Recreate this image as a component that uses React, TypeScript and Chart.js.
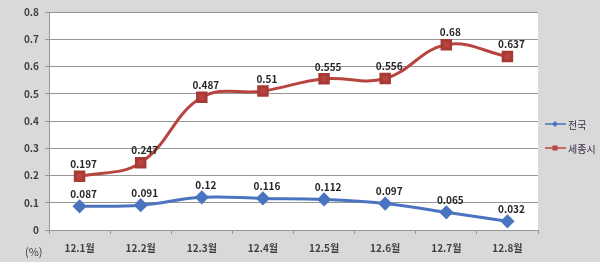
import React, { useEffect, useRef } from "react";
import { Chart, registerables } from "chart.js";

Chart.register(...registerables);

const categories = ["12.1월", "12.2월", "12.3월", "12.4월", "12.5월", "12.6월", "12.7월", "12.8월"];
const nationalValues = [0.087, 0.091, 0.12, 0.116, 0.112, 0.097, 0.065, 0.032];
const sejongValues = [0.197, 0.247, 0.487, 0.51, 0.555, 0.556, 0.68, 0.637];
const seriesNames = ["전국", "세종시"];
const unitLabel = "(%)";

const BLUE = "#4a74c0";
const RED = "#b8443f";
const FONT = "'Noto Sans CJK KR', 'Noto Sans', sans-serif";

const extrasPlugin = {
  id: "extras",
  beforeDraw(chart: any) {
    const { ctx, width, height } = chart;
    ctx.save();
    ctx.fillStyle = "#d9d9d9";
    ctx.fillRect(0, 0, width, height);
    const a = chart.chartArea;
    ctx.fillStyle = "#ffffff";
    ctx.fillRect(a.left, a.top, a.right - a.left, a.bottom - a.top);
    ctx.restore();
  },
  afterDatasetsDraw(chart: any) {
    const { ctx } = chart;
    ctx.save();
    ctx.font = `bold 10px ${FONT}`;
    ctx.fillStyle = "#262626";
    ctx.textAlign = "center";
    ctx.textBaseline = "middle";
    chart.data.datasets.forEach((ds: any, i: number) => {
      const meta = chart.getDatasetMeta(i);
      meta.data.forEach((pt: any, j: number) => {
        ctx.fillText(String(ds.data[j]), pt.x + 4, pt.y - 12);
      });
    });
    // unit label
    ctx.font = `11px ${FONT}`;
    ctx.fillStyle = "#404040";
    ctx.textAlign = "left";
    ctx.fillText(unitLabel, 25, 252);
    // legend
    const items = [
      { name: seriesNames[0], color: BLUE, style: "rectRot", y: 124 },
      { name: seriesNames[1], color: RED, style: "rect", y: 148 },
    ];
    items.forEach((it) => {
      ctx.strokeStyle = it.color;
      ctx.lineWidth = 1.5;
      ctx.beginPath();
      ctx.moveTo(545, it.y);
      ctx.lineTo(566, it.y);
      ctx.stroke();
      ctx.fillStyle = it.color;
      if (it.style === "rect") {
        ctx.fillRect(552.5, it.y - 2.5, 5, 5);
      } else {
        ctx.beginPath();
        ctx.moveTo(555, it.y - 3);
        ctx.lineTo(558, it.y);
        ctx.lineTo(555, it.y + 3);
        ctx.lineTo(552, it.y);
        ctx.closePath();
        ctx.fill();
      }
      ctx.font = `10px ${FONT}`;
      ctx.fillStyle = "#3b2f4a";
      ctx.textAlign = "left";
      ctx.fillText(it.name, 568, it.y + 1);
    });
    ctx.restore();
  },
};

export default function App() {
  const ref = useRef<HTMLCanvasElement>(null);
  useEffect(() => {
    document.body.style.margin = "0";
    const chart = new Chart(ref.current!, {
      type: "line",
      data: {
        labels: categories,
        datasets: [
          {
            label: seriesNames[0],
            data: nationalValues,
            borderColor: BLUE,
            backgroundColor: BLUE,
            borderWidth: 3,
            pointStyle: "rectRot",
            pointRadius: 5,
            pointBackgroundColor: BLUE,
            pointBorderColor: BLUE,
            tension: 0.4,
          },
          {
            label: seriesNames[1],
            data: sejongValues,
            borderColor: RED,
            backgroundColor: RED,
            borderWidth: 3,
            pointStyle: "rect",
            pointRadius: 6,
            pointBackgroundColor: RED,
            pointBorderColor: "#a83a35",
            tension: 0.4,
          },
        ],
      },
      options: {
        animation: false,
        responsive: false,
        layout: { padding: { left: 0, right: 62, top: 10, bottom: 0 } },
        plugins: { legend: { display: false }, tooltip: { enabled: false } },
        scales: {
          x: {
            offset: true,
            grid: {
              offset: true,
              drawOnChartArea: false,
              drawTicks: true,
              tickLength: 4,
              color: "#969696",
            },
            border: { color: "#969696" },
            ticks: {
              color: "#404040",
              font: { family: FONT, size: 10, weight: "bold" },
              padding: 8,
              maxRotation: 0,
            },
            afterFit: (s: any) => {
              s.height = 32;
            },
          },
          y: {
            min: 0,
            max: 0.8,
            ticks: {
              stepSize: 0.1,
              color: "#404040",
              font: { family: FONT, size: 10, weight: "bold" },
              padding: 6,
              callback: (v: any) => String(Math.round(Number(v) * 10) / 10),
            },
            grid: { color: "#969696", tickLength: 4 },
            border: { color: "#969696" },
            afterFit: (s: any) => {
              s.width = 49;
            },
          },
        },
      },
      plugins: [extrasPlugin],
    });
    return () => chart.destroy();
  }, []);
  return <canvas ref={ref} width={600} height={262} style={{ display: "block" }} />;
}
